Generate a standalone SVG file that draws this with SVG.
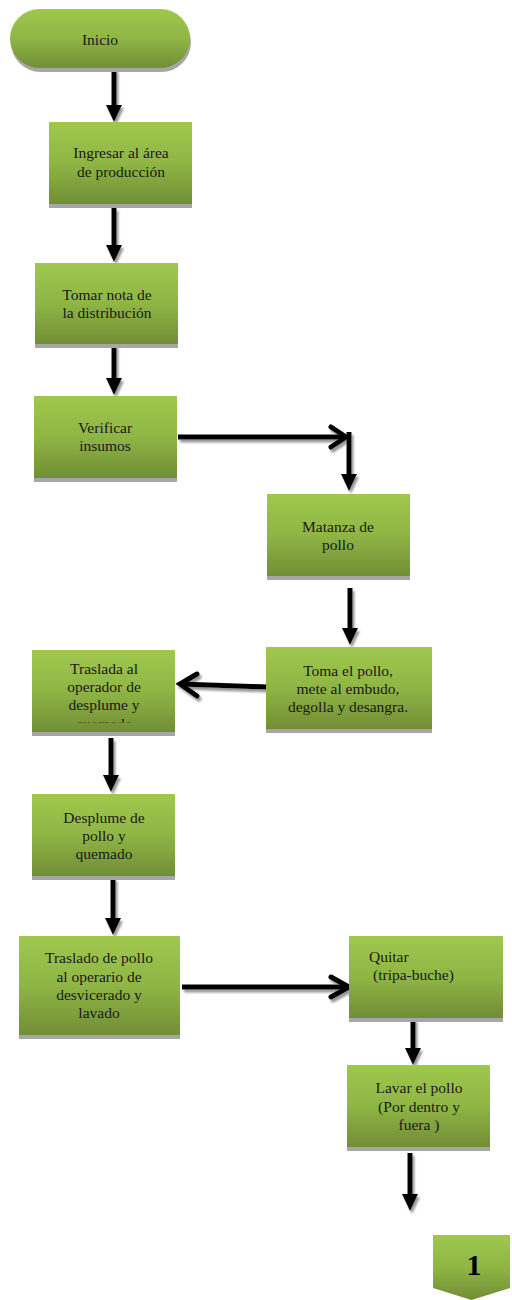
<svg xmlns="http://www.w3.org/2000/svg" width="512" height="1300" viewBox="0 0 512 1300">
<defs>
<linearGradient id="g" x1="0" y1="0" x2="0" y2="1">
<stop offset="0" stop-color="#a0c84d"/>
<stop offset="0.5" stop-color="#8fb545"/>
<stop offset="1" stop-color="#718e35"/>
</linearGradient>
<filter id="sh" x="-20%" y="-20%" width="140%" height="140%">
<feDropShadow dx="2" dy="3" stdDeviation="1" flood-color="#7f7f7f" flood-opacity="0.8"/>
</filter>
<clipPath id="clipT"><rect x="32" y="650" width="143" height="72.5"/></clipPath>
</defs>
<style>
.box{fill:url(#g);}
.shd{fill:#a6a6a6;}
.t{font-size:15.5px;fill:#1a1a1a;text-anchor:middle;}
.tl{text-anchor:start;}
.ln{stroke:#000;stroke-width:5;fill:none;}
.hd{fill:#000;}
.ch{stroke:#000;stroke-width:5;fill:none;stroke-linejoin:miter;stroke-linecap:round;}
</style>

<g id="connectors" filter="url(#sh)">
<line class="ln" x1="114" y1="69" x2="114" y2="108"/>
<path class="hd" d="M106,105 L122,105 L114,122 z"/>
<line class="ln" x1="114" y1="208" x2="114" y2="248"/>
<path class="hd" d="M106,245 L122,245 L114,262 z"/>
<line class="ln" x1="114" y1="345" x2="114" y2="381"/>
<path class="hd" d="M106,378 L122,378 L114,395 z"/>
<line class="ln" x1="178" y1="437" x2="346" y2="437"/>
<polyline class="ch" points="331,427 346,437 331,447"/>
<line class="ln" x1="349" y1="432" x2="349" y2="476"/>
<path class="hd" d="M341,474 L357,474 L349,491 z"/>
<line class="ln" x1="350" y1="588" x2="350" y2="630"/>
<path class="hd" d="M342,628 L358,628 L350,645 z"/>
<line class="ln" x1="268" y1="687" x2="180" y2="684"/>
<polyline class="ch" points="197,674 180,684 197,696"/>
<line class="ln" x1="111" y1="738" x2="111" y2="777"/>
<path class="hd" d="M103,775 L119,775 L111,792 z"/>
<line class="ln" x1="113" y1="878" x2="113" y2="920"/>
<path class="hd" d="M105,918 L121,918 L113,935 z"/>
<line class="ln" x1="182" y1="987" x2="349" y2="987"/>
<polyline class="ch" points="331,977 349,987 331,997"/>
<line class="ln" x1="413" y1="1019" x2="413" y2="1050"/>
<path class="hd" d="M405,1048 L421,1048 L413,1065 z"/>
<line class="ln" x1="410" y1="1153" x2="410" y2="1196"/>
<path class="hd" d="M402,1194 L418,1194 L410,1211 z"/>
</g>

<g font-family="'Liberation Serif', 'Times New Roman', serif">
<g id="inicio">
<rect class="shd" x="11" y="13" width="180" height="59" rx="29.5"/>
<rect class="box" x="10" y="9" width="180" height="59" rx="29.5"/>
<text class="t" x="100" y="45">Inicio</text>
</g>

<g id="ingresar">
<rect class="shd" x="49" y="126" width="143" height="82"/>
<rect class="box" x="49" y="122" width="143" height="82"/>
<text class="t" x="121" y="158">Ingresar al área</text>
<text class="t" x="121" y="176.5">de producción</text>
</g>

<g id="tomar">
<rect class="shd" x="35" y="267" width="143" height="81"/>
<rect class="box" x="35" y="263" width="143" height="81"/>
<text class="t" x="107" y="300">Tomar nota de</text>
<text class="t" x="107" y="318">la distribución</text>
</g>

<g id="verificar">
<rect class="shd" x="34" y="400" width="143" height="82"/>
<rect class="box" x="34" y="396" width="143" height="82"/>
<text class="t" x="105" y="433">Verificar</text>
<text class="t" x="105" y="451">insumos</text>
</g>

<g id="matanza">
<rect class="shd" x="267" y="498" width="143" height="82"/>
<rect class="box" x="267" y="494" width="143" height="82"/>
<text class="t" x="338" y="532">Matanza de</text>
<text class="t" x="338" y="549.5">pollo</text>
</g>

<g id="toma">
<rect class="shd" x="266" y="651" width="166" height="82"/>
<rect class="box" x="266" y="647" width="166" height="82"/>
<text class="t" x="348" y="676">Toma el pollo,</text>
<text class="t" x="348" y="694">mete al embudo,</text>
<text class="t" x="348" y="712">degolla y desangra.</text>
</g>

<g id="traslada">
<rect class="shd" x="32" y="654" width="143" height="82"/>
<rect class="box" x="32" y="650" width="143" height="82"/>
<g clip-path="url(#clipT)">
<text class="t" x="104" y="674">Traslada al</text>
<text class="t" x="104" y="692">operador de</text>
<text class="t" x="104" y="710">desplume y</text>
<text class="t" x="104" y="729">quemado</text>
</g>
</g>

<g id="desplume">
<rect class="shd" x="32" y="798" width="143" height="82"/>
<rect class="box" x="32" y="794" width="143" height="82"/>
<text class="t" x="104" y="823">Desplume de</text>
<text class="t" x="104" y="841">pollo y</text>
<text class="t" x="104" y="859">quemado</text>
</g>

<g id="traslado">
<rect class="shd" x="19" y="940" width="161" height="99"/>
<rect class="box" x="19" y="936" width="161" height="99"/>
<text class="t" x="99" y="963">Traslado de pollo</text>
<text class="t" x="99" y="982">al operario de</text>
<text class="t" x="99" y="1000">desvicerado y</text>
<text class="t" x="99" y="1018">lavado</text>
</g>

<g id="quitar">
<rect class="shd" x="349" y="940" width="154" height="82"/>
<rect class="box" x="349" y="936" width="154" height="82"/>
<text class="t tl" x="369" y="962">Quitar</text>
<text class="t tl" x="373" y="980">(tripa-buche)</text>
</g>

<g id="lavar">
<rect class="shd" x="347" y="1069" width="143" height="82"/>
<rect class="box" x="347" y="1065" width="143" height="82"/>
<text class="t" x="419" y="1093">Lavar el pollo</text>
<text class="t" x="419" y="1111.5">(Por dentro y</text>
<text class="t" x="419" y="1130">fuera )</text>
</g>

<g id="conector1">
<polygon class="box" points="433,1235 510,1235 510,1288 471.5,1300 433,1288"/>
<text class="t" x="474" y="1275" font-size="30" font-weight="bold" style="font-size:30px;fill:#000">1</text>
</g>
</g>
</svg>
